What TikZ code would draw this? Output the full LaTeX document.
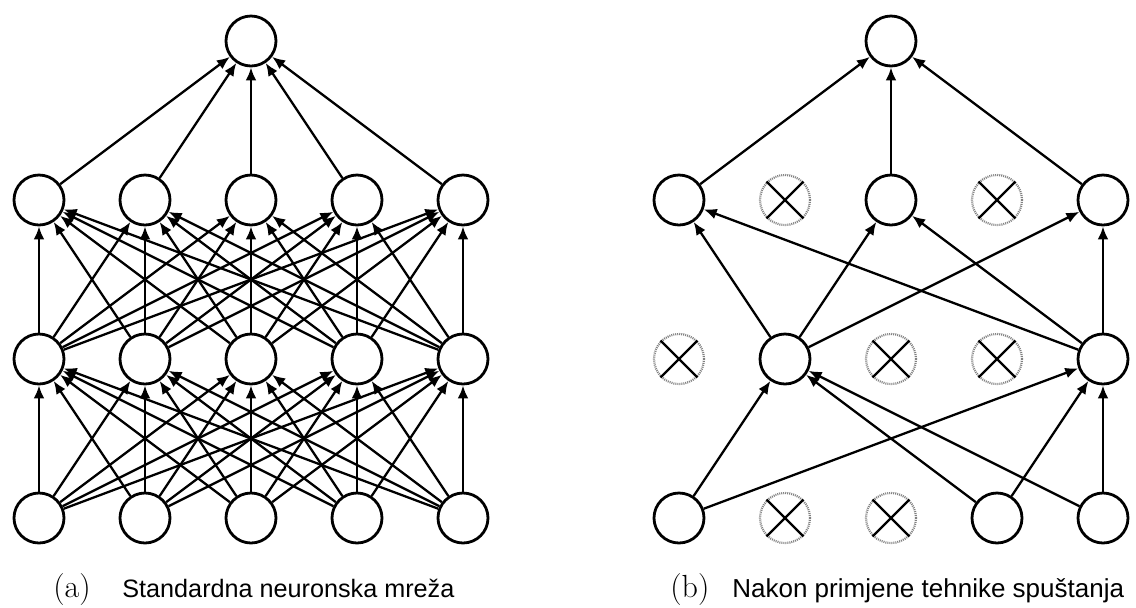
\documentclass[tikz,border=0pt]{standalone}
\usepackage{fontspec}
\newfontfamily\capfont{Liberation Sans}
\usetikzlibrary{arrows.meta}
\begin{document}
\begin{tikzpicture}[x=0.5pt,y=-0.5pt,>={Latex[length=6.5pt,width=5.4pt]},line join=round,
    neuron/.style={circle,draw,line width=1.4pt,minimum size=25pt,inner sep=0pt,fill=white},
    dropped/.style={circle,draw=gray,dash pattern=on 0.5pt off 0.5pt,line width=1.1pt,minimum size=25pt,inner sep=0pt},
    edge/.style={->,line width=1.15pt},
    tag/.style={anchor=base west,inner sep=0pt,font=\fontsize{16}{18}\selectfont},
    caption/.style={anchor=base west,inner sep=0pt,font=\capfont\fontsize{#1}{15}\selectfont}]
  \def\dx{106}
  \def\ya{518} \def\yb{359} \def\yc{200} \def\yd{41}
  \useasboundingbox (0,0) rectangle (1136,607);
  % (a) standard network
  \foreach \i in {1,...,5} {
    \node[neuron] (a-in-\i) at ({39+(\i-1)*\dx},\ya) {};
    \node[neuron] (a-h1-\i) at ({39+(\i-1)*\dx},\yb) {};
    \node[neuron] (a-h2-\i) at ({39+(\i-1)*\dx},\yc) {};
  }
  \node[neuron] (a-out) at (251,\yd) {};
  \foreach \i in {1,...,5} {
    \foreach \j in {1,...,5} {
      \draw[edge] (a-in-\i) -- (a-h1-\j);
      \draw[edge] (a-h1-\i) -- (a-h2-\j);
    }
    \draw[edge] (a-h2-\i) -- (a-out);
  }
  % (b) after dropout
  \foreach \i in {1,4,5} \node[neuron] (b-in-\i) at ({679+(\i-1)*\dx},\ya) {};
  \foreach \i in {2,3} \node[dropped] (b-in-\i) at ({679+(\i-1)*\dx},\ya) {};
  \foreach \i in {2,5} \node[neuron] (b-h1-\i) at ({679+(\i-1)*\dx},\yb) {};
  \foreach \i in {1,3,4} \node[dropped] (b-h1-\i) at ({679+(\i-1)*\dx},\yb) {};
  \foreach \i in {1,3,5} \node[neuron] (b-h2-\i) at ({679+(\i-1)*\dx},\yc) {};
  \foreach \i in {2,4} \node[dropped] (b-h2-\i) at ({679+(\i-1)*\dx},\yc) {};
  \node[neuron] (b-out) at (891,\yd) {};
  \foreach \n in {b-in-2,b-in-3,b-h1-1,b-h1-3,b-h1-4,b-h2-2,b-h2-4}
    \draw[line width=1.2pt] (\n.north east) -- (\n.south west) (\n.north west) -- (\n.south east);
  \foreach \i in {1,4,5}
    \foreach \j in {2,5}
      \draw[edge] (b-in-\i) -- (b-h1-\j);
  \foreach \i in {2,5}
    \foreach \j in {1,3,5}
      \draw[edge] (b-h1-\i) -- (b-h2-\j);
  \foreach \i in {1,3,5}
    \draw[edge] (b-h2-\i) -- (b-out);
  \node[tag] (a-tag) at (53,597) {(a)};
  \node[caption=12.6] (a-cap) at (122,597) {Standardna neuronska mreža};
  \node[tag] (b-tag) at (670,597) {(b)};
  \node[caption=13] (b-cap) at (732,597) {Nakon primjene tehnike spuštanja};
\end{tikzpicture}
\end{document}
